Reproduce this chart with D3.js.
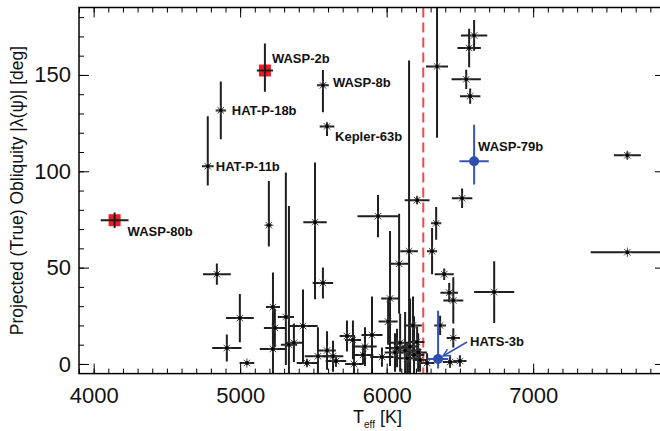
<!DOCTYPE html>
<html>
<head>
<meta charset="utf-8">
<script src="https://cdn.jsdelivr.net/npm/d3@7"></script>
<style>
  body { margin: 0; background: #fff; }
  text { font-family: "Liberation Sans", Arial, Helvetica, sans-serif; }
</style>
</head>
<body>
<svg id="chart" width="660" height="431"></svg>
<script>
// ---- data ----
// ordinary systems: Teff, Teff error, obliquity, lower / upper obliquity error
let teff    = [4841,4998,4909,5046,5196,5224,5237,5224,5312,5333,5367,5429,5456,5531,5511,5565,5593,5634,5654,5729,5770,5777,5852,5900,5968,5941,6023,6010,6085,6153,6208,6310,6338,6344,6393,6427,6455,6515,6543,6570,6563,6597,6734,7643,7643,6180,6365,6455,6500,6433,6276,6071,6208,6092,6126,6160,6187,6215,6228,6140,6057,5839]
let teffErr = [95,95,100,50,20,48,75,90,55,55,60,100,70,90,80,70,60,70,70,50,55,60,80,72,80,140,60,65,65,60,85,35,35,75,65,60,68,70,100,70,80,90,137,92,250,60,40,45,45,50,50,80,50,70,80,60,70,60,50,70,70,70]
let obl     = [46.6,23.8,8.3,0.5,72,29.5,18.7,7.8,24.4,10,11,19.7,0.5,4,73.6,42,7,4,1.5,14.5,12.5,0,9,15,3.6,76.7,34,22,52,58.5,85,58.5,73,154.4,46.6,37,33,86,147.7,139,164,170.5,37.3,108.3,58,20,20,13.5,1.5,1,0.5,8.3,11.4,11,7,9,4.7,6,2,3,6,4.7]
let oblLo   = [5.5,12.5,7,1,11,18,10,15,25,15,10,19,2,15,40,8,10,8,3,8,10,15,10,20,5,11,35,12,26,99,2,12,8.5,37,3,5,12,5,5,4,10,8,16,2,1,15,5,5,3,3,5,10,8,15,20,25,20,10,6,8,10,5]
let oblHi   = [5.5,12.5,7,1,23,18,10,15,75,72,10,19,2,15,31,8,10,8,3,8,10,15,10,20,5,11,35,12,26,99,2,12,8.5,31,3,5,12,5,5,4,10,8,16,2,1,15,5,5,3,3,5,10,8,15,20,25,20,10,6,8,10,5]

// labelled systems
let names     = ["WASP-80b","WASP-2b","HAT-P-18b","HAT-P-11b","WASP-8b","Kepler-63b","WASP-79b","HATS-3b"]
let nameGroup = ["red","red","black","black","black","black","blue","blue"]
let nameTeff  = [4143,5169,4868,4779,5565,5593,6597,6351]
let nameTErr  = [95,55,35,40,40,50,100,70]
let nameObl   = [74.6,152.3,131.6,102.6,144.6,123.3,105.2,2.6]
let nameLo    = [4,11,15,10,14,5,12,5]
let nameHi    = [4,14,15,26,8,2,19,25]

let teffCut = 6250
let xMajor = [4000, 5000, 6000, 7000]
let yMajor = [0, 50, 100, 150]
let xMinor = d3.range(3900, 7901, 100)
let yMinor = d3.range(0, 181, 10)

// ---- layout ----
let svg = d3.select("#chart")
let x = d3.scaleLinear().domain([3900, 7900]).range([79, 665])
let y = d3.scaleLinear().domain([-5, 185]).range([373.6, 7.5])

let plotBottom = y(-5), plotTop = y(185), plotLeft = x(3900), plotRight = x(7900)

let defs = svg.append("defs")
defs.append("clipPath").attr("id", "plotclip")
    .append("rect")
    .attr("x", plotLeft).attr("y", plotTop)
    .attr("width", plotRight - plotLeft).attr("height", plotBottom - plotTop)

defs.append("marker")
    .attr("id", "arrow").attr("viewBox", "0 0 10 10")
    .attr("refX", 9).attr("refY", 5)
    .attr("markerWidth", 9).attr("markerHeight", 9)
    .attr("markerUnits", "userSpaceOnUse")
    .attr("orient", "auto")
    .append("path")
    .attr("d", "M1,1 L9,5 L1,9")
    .attr("fill", "none").attr("stroke", "#3556b8").attr("stroke-width", 1.6)

let plot = svg.append("g").attr("clip-path", "url(#plotclip)")

// cut-off temperature
plot.append("line")
    .attr("x1", x(teffCut)).attr("x2", x(teffCut))
    .attr("y1", plotTop).attr("y2", plotBottom)
    .style("stroke", "#f0494e").style("stroke-width", 2)
    .style("stroke-dasharray", "10,5")

let pts = teff.map((t, i) => ({ t: t, te: teffErr[i], l: obl[i], lo: oblLo[i], hi: oblHi[i] }))
let named = names.map((n, i) => ({ name: n, g: nameGroup[i], t: nameTeff[i], te: nameTErr[i], l: nameObl[i], lo: nameLo[i], hi: nameHi[i] }))

function errBars(sel, data, color, width) {
    let g = sel.append("g").style("stroke", color).style("stroke-width", width)
    g.selectAll(".xe").data(data).join("line").attr("class", "xe")
        .attr("x1", d => x(d.t - d.te)).attr("x2", d => x(d.t + d.te))
        .attr("y1", d => y(d.l)).attr("y2", d => y(d.l))
    g.selectAll(".ye").data(data).join("line").attr("class", "ye")
        .attr("x1", d => x(d.t)).attr("x2", d => x(d.t))
        .attr("y1", d => y(d.l - d.lo)).attr("y2", d => y(d.l + d.hi))
}

function starPath(r) {
    let a = r * 0.7071
    return `M${-r},0L${r},0M0,${-r}L0,${r}M${-a},${-a}L${a},${a}M${-a},${a}L${a},${-a}`
}

let redPts = named.filter(d => d.g == "red")
let blackNamed = named.filter(d => d.g == "black")
let bluePts = named.filter(d => d.g == "blue")

// red squares sit underneath their error bars
plot.selectAll(".sq").data(redPts).join("rect").attr("class", "sq")
    .attr("x", d => x(d.t) - 6).attr("y", d => y(d.l) - 6)
    .attr("width", 12).attr("height", 12)
    .style("fill", "#ec1c24")

errBars(plot, pts.concat(blackNamed).concat(redPts), "#1e1e1e", 2)

let allStars = pts.concat(blackNamed)
plot.selectAll(".star").data(allStars).join("path").attr("class", "star")
    .attr("transform", d => `translate(${x(d.t)},${y(d.l)})`)
    .attr("d", starPath(4.6))
    .style("fill", "none").style("stroke", "#444").style("stroke-width", 1)
plot.selectAll(".dot").data(allStars).join("circle").attr("class", "dot")
    .attr("cx", d => x(d.t)).attr("cy", d => y(d.l)).attr("r", 1.8)
    .style("fill", "#000")

errBars(plot, bluePts, "#3556b8", 2)
plot.selectAll(".bdot").data(bluePts).join("circle").attr("class", "bdot")
    .attr("cx", d => x(d.t)).attr("cy", d => y(d.l)).attr("r", 5)
    .style("fill", "#2e4fb0")

// ---- labels ----
let labelOff = {
    "WASP-80b": [13, 16], "WASP-2b": [7, -8], "HAT-P-18b": [11, 5], "HAT-P-11b": [8, 5],
    "WASP-8b": [10, 2], "Kepler-63b": [8, 15], "WASP-79b": [4, -10], "HATS-3b": [32, -13]
}
svg.append("g").selectAll("text").data(named).join("text")
    .attr("x", d => x(d.t) + labelOff[d.name][0])
    .attr("y", d => y(d.l) + labelOff[d.name][1])
    .text(d => d.name)
    .style("font-size", "13px").style("font-weight", "bold").style("fill", "#111")

let hats = named.find(d => d.name == "HATS-3b")
svg.append("line")
    .attr("x1", x(hats.t) + 29).attr("y1", y(hats.l) - 17)
    .attr("x2", x(hats.t) + 5).attr("y2", y(hats.l) - 3)
    .style("stroke", "#3556b8").style("stroke-width", 1.6)
    .attr("marker-end", "url(#arrow)")

// ---- axes ----
function styleAxis(g) {
    g.select(".domain").remove()
    g.selectAll("line").style("stroke", "#000").style("stroke-width", 1)
    g.selectAll("text").style("font-size", "22px").style("fill", "#111")
        .style("font-family", "'Liberation Sans', Arial, sans-serif")
}

svg.append("g").attr("transform", `translate(0,${plotBottom})`)
    .call(d3.axisBottom(x).tickValues(xMinor).tickSize(-5).tickFormat("")).call(styleAxis)
svg.append("g").attr("transform", `translate(0,${plotBottom})`)
    .call(d3.axisBottom(x).tickValues(xMajor).tickSize(-10).tickPadding(14).tickFormat(d3.format("d"))).call(styleAxis)
svg.append("g").attr("transform", `translate(0,${plotTop})`)
    .call(d3.axisTop(x).tickValues(xMinor).tickSize(-5).tickFormat("")).call(styleAxis)
svg.append("g").attr("transform", `translate(0,${plotTop})`)
    .call(d3.axisTop(x).tickValues(xMajor).tickSize(-10).tickFormat("")).call(styleAxis)

svg.append("g").attr("transform", `translate(${plotLeft},0)`)
    .call(d3.axisLeft(y).tickValues(yMinor).tickSize(-5).tickFormat("")).call(styleAxis)
svg.append("g").attr("transform", `translate(${plotLeft},0)`)
    .call(d3.axisLeft(y).tickValues(yMajor).tickSize(-10).tickPadding(8).tickFormat(d3.format("d"))).call(styleAxis)
svg.append("g").attr("transform", `translate(${plotRight},0)`)
    .call(d3.axisRight(y).tickValues(yMinor).tickSize(-5).tickFormat("")).call(styleAxis)
svg.append("g").attr("transform", `translate(${plotRight},0)`)
    .call(d3.axisRight(y).tickValues(yMajor).tickSize(-10).tickFormat("")).call(styleAxis)

svg.append("rect")
    .attr("x", plotLeft).attr("y", plotTop)
    .attr("width", plotRight - plotLeft).attr("height", plotBottom - plotTop)
    .style("fill", "none").style("stroke", "#000").style("stroke-width", 1.5)

// axis titles
let xt = svg.append("text").attr("x", 353).attr("y", 423)
    .style("font-size", "18px").style("fill", "#111")
xt.append("tspan").text("T")
xt.append("tspan").text("eff").attr("dy", 5).style("font-size", "10px")
xt.append("tspan").text(" [K]").attr("dy", -5)

svg.append("text")
    .attr("transform", `translate(23,${(plotTop + plotBottom) / 2}) rotate(-90)`)
    .attr("text-anchor", "middle")
    .style("font-size", "17.5px").style("fill", "#111")
    .text("Projected (True) Obliquity |λ(ψ)| [deg]")
</script>
</body>
</html>
